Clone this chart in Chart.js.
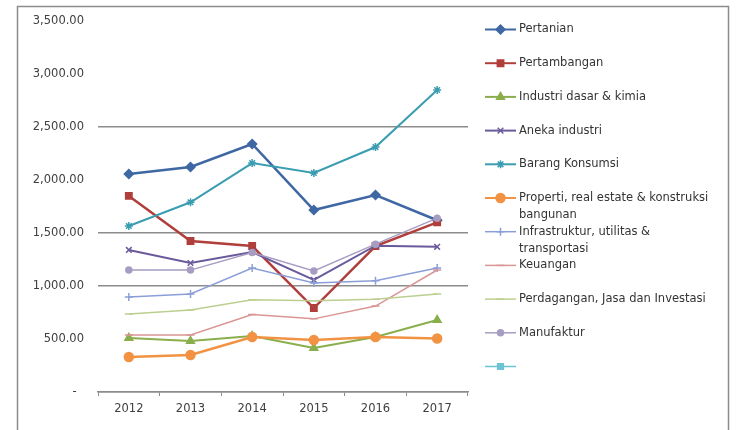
<!DOCTYPE html>
<html><head><meta charset="utf-8">
<script src="https://cdn.jsdelivr.net/npm/chart.js@4/dist/chart.umd.min.js"></script>
<style>html,body{margin:0;padding:0;background:#fff;}#wrap{width:740px;height:430px;position:relative;}</style>
</head><body><div id="wrap"><canvas id="c" width="740" height="430"></canvas></div>
<script>
const years = ['2012','2013','2014','2015','2016','2017'];
const seriesNames = ['Pertanian','Pertambangan','Industri dasar & kimia','Aneka industri','Barang Konsumsi',
  'Properti, real estate & konstruksi bangunan','Infrastruktur, utilitas & transportasi','Keuangan',
  'Perdagangan, Jasa dan Investasi','Manufaktur',''];
const pertanian      = [2057,2123,2340,1717,1858,1620];
const pertambangan   = [1850,1425,1377, 792,1377,1600];
const industriDasar  = [ 510, 481, 528, 415, 519, 679];
const anekaIndustri  = [1340,1217,1321,1057,1380,1370];
const barangKonsumsi = [1566,1790,2160,2066,2311,2849];
const properti       = [ 330, 349, 519, 490, 519, 505];
const infrastruktur  = [ 896, 924,1170,1028,1050,1170];
const keuangan       = [ 538, 538, 730, 690, 811,1151];
const perdagangan    = [ 736, 774, 870, 860, 875, 925];
const manufaktur     = [1150,1150,1315,1141,1395,1640];
const lainnya        = [];
const yTickValues = [0,500,1000,1500,2000,2500,3000,3500];
const yTickLabels = ['-  ','500.00','1,000.00','1,500.00','2,000.00','2,500.00','3,000.00','3,500.00'];
const visibleGrid = [0,1000,1500,2500];

const allData = [pertanian,pertambangan,industriDasar,anekaIndustri,barangKonsumsi,properti,infrastruktur,keuangan,perdagangan,manufaktur,lainnya];
const styles = [
  {c:'#3f67a3', p:'rectRot', r:4.5, w:2.5},
  {c:'#b03f3c', p:'rect', r:4.5, w:2.5},
  {c:'#8aae4c', p:'triangle', r:4.5, w:2},
  {c:'#6a5a9c', p:'crossRot', r:4, w:2},
  {c:'#3b9db2', p:'star', r:4, w:2},
  {c:'#f29243', p:'circle', r:4.5, w:2.5},
  {c:'#8b9ed8', p:'cross', r:4, w:1.5},
  {c:'#d99694', p:'line', r:4, w:1.5},
  {c:'#bccf90', p:'line', r:4, w:1.5},
  {c:'#a79dc2', p:'circle', r:3, w:1.5},
  {c:'#6cc3d3', p:'rect', r:4, w:1.5}
];
const N = allData.length;
const datasets = allData.map((d,i)=>({
  label: seriesNames[i], data: d,
  borderColor: styles[i].c, backgroundColor: styles[i].c,
  pointBackgroundColor: styles[i].c, pointBorderColor: styles[i].c,
  pointStyle: styles[i].p, pointRadius: styles[i].r, pointBorderWidth: 1.5,
  borderWidth: styles[i].w, tension: 0, order: N - i
}));

const FONT = '"DejaVu Sans", "Liberation Sans", Arial, sans-serif';
const framePlugin = {
  id:'frame',
  beforeDraw(chart){
    const ctx = chart.ctx; ctx.save();
    ctx.fillStyle='#fff'; ctx.fillRect(0,0,chart.width,chart.height);
    ctx.strokeStyle='#8c8c8c'; ctx.lineWidth=1.5;
    ctx.strokeRect(17.5,6.5,711,440);
    ctx.restore();
  }
};
const legendPlugin = {
  id:'sideLegend',
  afterDraw(chart){
    const ctx = chart.ctx; ctx.save();
    ctx.font = '11.5px '+FONT; ctx.textBaseline='middle';
    chart.data.datasets.forEach((ds,i)=>{
      const y = 29.5 + i*33.7;
      ctx.strokeStyle = ds.borderColor; ctx.fillStyle = ds.pointBackgroundColor;
      ctx.lineWidth = Math.min(ds.borderWidth,2);
      ctx.beginPath(); ctx.moveTo(485,y); ctx.lineTo(516,y); ctx.stroke();
      ctx.lineWidth = 1.5;
      Chart.helpers.drawPoint(ctx,{pointStyle:ds.pointStyle,radius:ds.pointRadius,borderWidth:1.5,rotation:0},500.5,y);
      const words = ds.label.split(' ').filter(w=>w.length);
      const lines=[]; let cur='';
      words.forEach(w=>{const t=cur?cur+' '+w:w; if(ctx.measureText(t).width>196 && cur){lines.push(cur);cur=w;} else cur=t;});
      if(cur) lines.push(cur);
      ctx.fillStyle='#333';
      lines.forEach((ln,k)=>ctx.fillText(ln,519,y+k*17));
    });
    ctx.restore();
  }
};

new Chart(document.getElementById('c'),{
  type:'line',
  data:{labels:years,datasets},
  plugins:[framePlugin,legendPlugin],
  options:{
    responsive:false, animation:false,
    layout:{padding:{left:17,right:272,top:21,bottom:0}},
    plugins:{legend:{display:false},tooltip:{enabled:false}},
    scales:{
      x:{
        offset:true,
        grid:{drawOnChartArea:false,drawTicks:true,tickLength:4,color:'#8c8c8c',offset:true},
        border:{display:true,color:'#8c8c8c',width:1.5},
        ticks:{font:{family:FONT,size:11.5},color:'#404040',padding:6},
        afterFit(s){s.height=38;}
      },
      y:{
        min:0,max:3500,
        afterBuildTicks(s){s.ticks=yTickValues.map(v=>({value:v}));},
        grid:{drawTicks:false,color:(c)=>visibleGrid.includes(c.tick&&c.tick.value)?'#8c8c8c':'rgba(0,0,0,0)',lineWidth:1.5},
        border:{display:false},
        ticks:{font:{family:FONT,size:11.5},color:'#404040',padding:14,
          callback:(v)=>{const k=yTickValues.indexOf(v);return k>=0?yTickLabels[k]:'';}},
        afterFit(s){s.width=81;}
      }
    }
  }
});
</script></body></html>
